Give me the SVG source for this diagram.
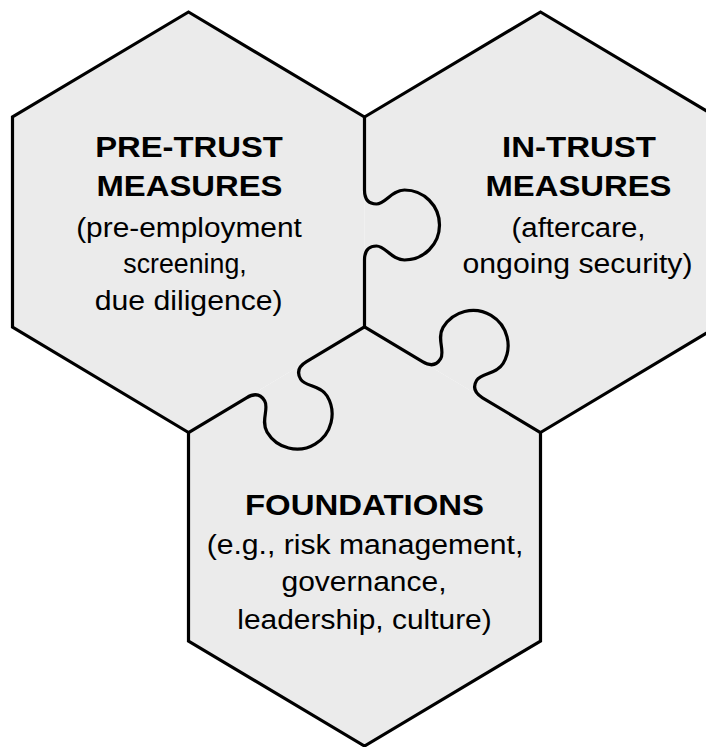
<svg xmlns="http://www.w3.org/2000/svg" width="706" height="747" viewBox="0 0 706 747">
<style>
.fill{fill:#ebebeb;stroke:none}
.edge{fill:none;stroke:#000;stroke-width:3.2;stroke-linejoin:miter;stroke-linecap:round}
.seam{fill:none;stroke:#000;stroke-width:3.2;stroke-linejoin:round;stroke-linecap:round}
.t{font-family:"Liberation Sans",Arial,Helvetica,sans-serif;fill:#000;text-anchor:middle}
.b{font-weight:bold;font-size:30px}
.r{font-size:27px}
</style>
<rect width="706" height="747" fill="#fff"/>
<g id="pre-trust">
<polygon class="fill" points="188.5,12 364.5,117 364.5,327 188.5,432.5 12.5,327 12.5,117"/>
<path class="edge" d="M364.5,117 L188.5,12 L12.5,117 L12.5,327 L188.5,432.5"/>
<text class="t b" x="189" y="157" textLength="187.7" lengthAdjust="spacingAndGlyphs">PRE-TRUST</text>
<text class="t b" x="189.5" y="196" textLength="186" lengthAdjust="spacingAndGlyphs">MEASURES</text>
<text class="t r" x="189" y="237" textLength="225.7" lengthAdjust="spacingAndGlyphs">(pre-employment</text>
<text class="t r" x="185" y="273" textLength="123.4" lengthAdjust="spacingAndGlyphs">screening,</text>
<text class="t r" x="188.7" y="310" textLength="188" lengthAdjust="spacingAndGlyphs">due diligence)</text>
</g>
<g id="in-trust">
<polygon class="fill" points="540.5,12 716.5,117 716.5,327 540.5,432.5 364.5,327 364.5,117"/>
<path class="edge" d="M364.5,117 L540.5,12 L716.5,117 L716.5,327 L540.5,432.5"/>
<text class="t b" x="579" y="157" textLength="154" lengthAdjust="spacingAndGlyphs">IN-TRUST</text>
<text class="t b" x="578.5" y="196" textLength="186" lengthAdjust="spacingAndGlyphs">MEASURES</text>
<text class="t r" x="578.5" y="237" textLength="134" lengthAdjust="spacingAndGlyphs">(aftercare,</text>
<text class="t r" x="577.5" y="273" textLength="230" lengthAdjust="spacingAndGlyphs">ongoing security)</text>
</g>
<g id="foundations">
<polygon class="fill" points="364.5,327 540.5,432.5 540.5,641 364.5,746 188.5,641 188.5,432.5"/>
<path class="edge" d="M188.5,432.5 L188.5,641 L364.5,746 L540.5,641 L540.5,432.5"/>
<text class="t b" x="364.5" y="515" textLength="239" lengthAdjust="spacingAndGlyphs">FOUNDATIONS</text>
<text class="t r" x="365" y="554" textLength="316.7" lengthAdjust="spacingAndGlyphs">(e.g., risk management,</text>
<text class="t r" x="364" y="591" textLength="165" lengthAdjust="spacingAndGlyphs">governance,</text>
<text class="t r" x="364.5" y="629" textLength="254.4" lengthAdjust="spacingAndGlyphs">leadership, culture)</text>
</g>
<g id="connectors">
<path class="seam" transform="translate(364.5,225) rotate(-90)" d="M108,0 L35,0 C26,0 21,4 21,12 C21,21 35,27 35,40 A35,35 0 0 1 -35,40 C-35,27 -21,21 -21,12 C-21,4 -26,0 -35,0 L-102,0"/>
<path class="seam" transform="translate(276.5,379.75) rotate(-30.96)" d="M102.6,0 L35,0 C26,0 21,4 21,12 C21,21 35,27 35,40 A35,35 0 0 1 -35,40 C-35,27 -21,21 -21,12 C-21,4 -26,0 -35,0 L-102.6,0"/>
<path class="seam" transform="translate(452.5,379.75) rotate(210.96)" d="M102.6,0 L35,0 C26,0 21,4 21,12 C21,21 35,27 35,40 A35,35 0 0 1 -35,40 C-35,27 -21,21 -21,12 C-21,4 -26,0 -35,0 L-102.6,0"/>
</g>
</svg>
